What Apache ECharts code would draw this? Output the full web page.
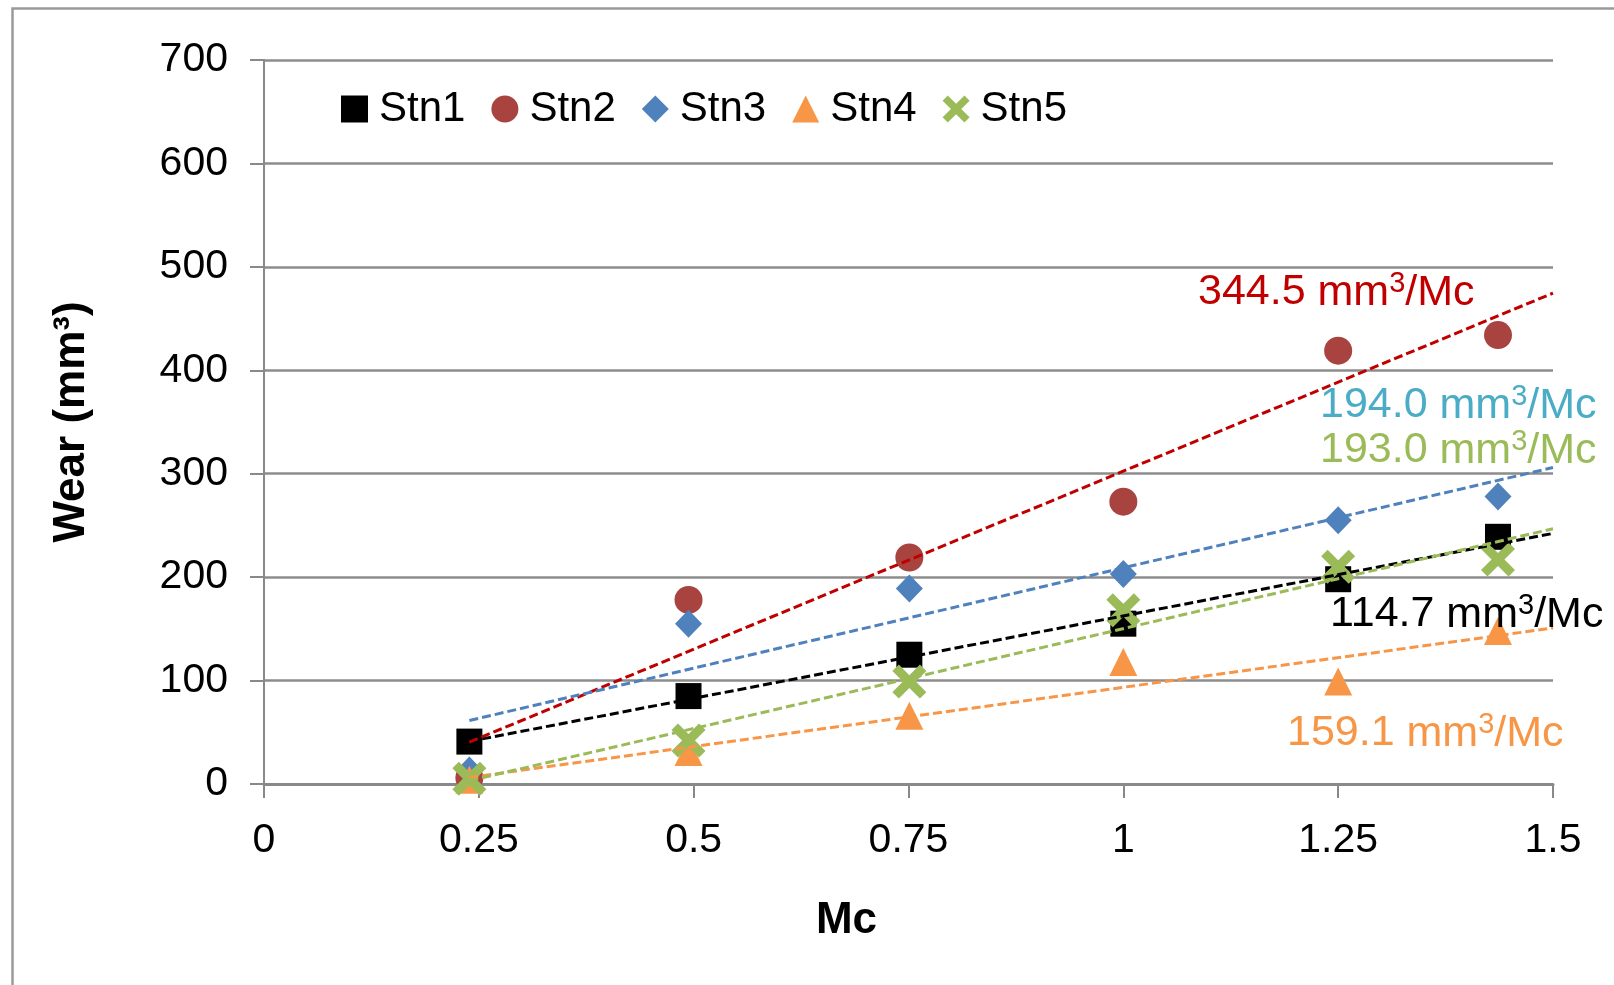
<!DOCTYPE html>
<html><head><meta charset="utf-8">
<script src="https://cdn.jsdelivr.net/npm/echarts/dist/echarts.min.js"></script>
<style>html,body{margin:0;padding:0;background:#fff}#c{width:1614px;height:985px}</style>
</head><body><div id="c"></div>
<script>
// ---- data ----
const mc = [0.239, 0.494, 0.751, 1.0, 1.25, 1.436];
const stn1 = [41, 85, 125, 155, 198, 239];
const stn2 = [6, 178, 219, 273, 419, 434];
const stn3 = [13, 155, 189, 203, 255, 278];
const stn4 = [4, 31, 66, 118, 99, 148];
const stn5 = [5, 42, 99, 168, 210, 217];
const seriesNames = ['Stn1', 'Stn2', 'Stn3', 'Stn4', 'Stn5'];
const slopeValues = ['344.5', '194.0', '193.0', '114.7', '159.1'];
const slopeUnit = ['mm', '3', '/Mc'];
const trendEnd = 1.5;

// ---- styles ----
const FONT = "'Liberation Sans', Arial, sans-serif";
const markerColors = ['#000000', '#A8433F', '#4F81BD', '#F79646', '#9BBB59'];
const trendColors = ['#000000', '#C00000', '#4F81BD', '#F79646', '#9BBB59'];
const XPATH = 'path://M0,19 L19,0 L50,31 L81,0 L100,19 L69,50 L100,81 L81,100 L50,69 L19,100 L0,81 L31,50 Z';
const symbols = ['rect', 'circle', 'diamond', 'triangle', XPATH];
const symbolSizes = [26, 28, [27, 28], 28, 34];

const all = [stn1, stn2, stn3, stn4, stn5];

function fit(xs, ys) {
  const n = xs.length;
  const mx = xs.reduce((a, b) => a + b, 0) / n;
  const my = ys.reduce((a, b) => a + b, 0) / n;
  let sxy = 0, sxx = 0;
  for (let i = 0; i < n; i++) { sxy += (xs[i] - mx) * (ys[i] - my); sxx += (xs[i] - mx) * (xs[i] - mx); }
  const b = sxy / sxx;
  return { a: my - b * mx, b };
}

const series = [];
all.forEach((ys, i) => {
  series.push({
    name: seriesNames[i], type: 'scatter',
    data: mc.map((x, j) => [x, ys[j]]),
    symbol: symbols[i], symbolSize: symbolSizes[i],
    itemStyle: { color: markerColors[i], opacity: 1 },
    z: 2 + i, silent: true
  });
});
all.forEach((ys, i) => {
  const f = fit(mc, ys);
  const x0 = mc[0];
  series.push({
    name: seriesNames[i] + ' trend', type: 'line',
    data: [[x0, f.a + f.b * x0], [trendEnd, f.a + f.b * trendEnd]],
    showSymbol: false, symbol: 'none', silent: true, z: 10,
    lineStyle: { color: trendColors[i], width: 3, type: [9, 4] }
  });
});

const chart = echarts.init(document.getElementById('c'), null, { renderer: 'canvas' });
const labelPos = [[1198, 292, '#C00000'], [1320, 405, '#4BACC6'], [1320, 450, '#9BBB59'], [1330, 614, '#000000'], [1287, 733, '#F79646']];

function slopeText(i) {
  return slopeValues[i] + ' {u|' + slopeUnit[0] + '}{s|' + slopeUnit[1] + '}{u|' + slopeUnit[2] + '}';
}

chart.setOption({
  animation: false,
  backgroundColor: '#fff',
  grid: { left: 264, right: 61, top: 60, bottom: 201, containLabel: false, outerBoundsMode: 'none' },
  legend: {
    data: seriesNames, left: 341, top: 88, orient: 'horizontal', padding: 0,
    itemWidth: 27, itemHeight: 27, itemGap: 26,
    textStyle: { fontSize: 42, color: '#000', fontFamily: FONT, lineHeight: 42, padding: [0, 0, 0, 6] },
    selectedMode: false
  },
  xAxis: {
    type: 'value', min: 0, max: 1.5, interval: 0.25,
    name: 'Mc', nameLocation: 'middle', nameGap: 115,
    nameTextStyle: { fontSize: 44, fontWeight: 'bold', color: '#000', fontFamily: FONT, padding: [0, 124, 0, 0] },
    axisLine: { show: true, onZero: false, lineStyle: { color: '#898989', width: 3 } },
    axisTick: { show: true, inside: false, length: 14, lineStyle: { color: '#898989', width: 2 } },
    axisLabel: { fontSize: 41, color: '#000', fontFamily: FONT, margin: 36, showMinLabel: true, showMaxLabel: true },
    splitLine: { show: false }
  },
  yAxis: {
    type: 'value', min: 0, max: 700, interval: 100,
    name: 'Wear (mm³)', nameLocation: 'middle', nameGap: 170,
    nameTextStyle: { fontSize: 44, fontWeight: 'bold', color: '#000', fontFamily: FONT },
    axisLine: { show: true, lineStyle: { color: '#898989', width: 2 } },
    axisTick: { show: true, inside: false, length: 14, lineStyle: { color: '#898989', width: 2 } },
    axisLabel: { fontSize: 41, color: '#000', fontFamily: FONT, margin: 36 },
    splitLine: { show: true, lineStyle: { color: '#8C8C8C', width: 2.5 } }
  },
  graphic: [
    { type: 'rect', left: 10, top: 6, silent: true, shape: { x: 0, y: 0, width: 1700, height: 1100 },
      style: { fill: 'none', stroke: '#9A9A9A', lineWidth: 2.5 }, z: -10 }
  ].concat(labelPos.map((p, i) => ({
    type: 'text', x: p[0], y: p[1], silent: true, z: 100,
    style: {
      text: slopeText(i), fill: p[2], fontSize: 43, fontFamily: FONT, lineHeight: 46,
      align: 'left', verticalAlign: 'middle',
      rich: {
        u: { fontSize: 43, fontFamily: FONT, fill: p[2], lineHeight: 46, verticalAlign: 'bottom' },
        s: { fontSize: 29, fontFamily: FONT, fill: p[2], lineHeight: 46, verticalAlign: 'top' }
      }
    }
  }))),
  series
});
</script>
</body></html>
